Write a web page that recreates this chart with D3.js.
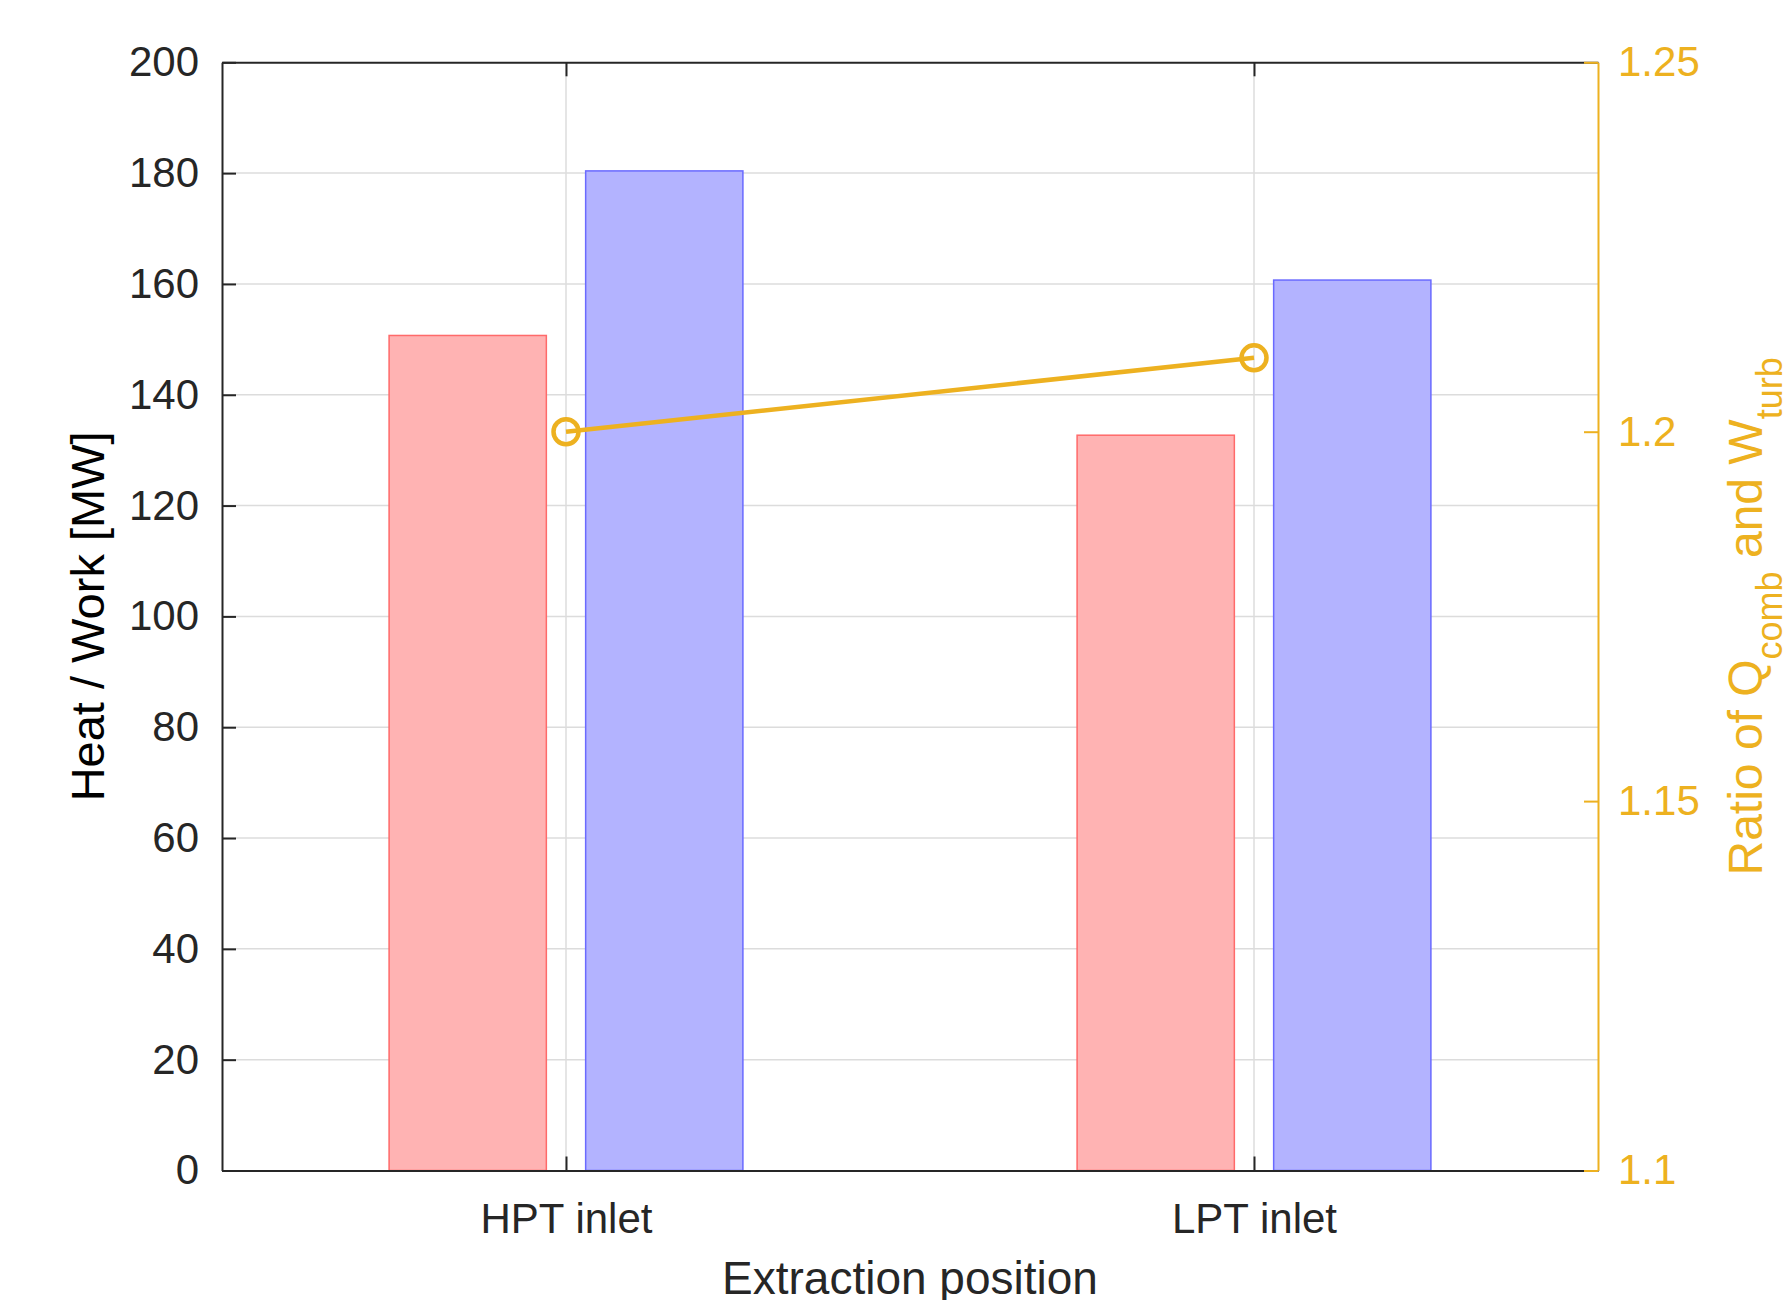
<!DOCTYPE html>
<html>
<head>
<meta charset="utf-8">
<script src="https://d3js.org/d3.v7.min.js"></script>
<style>
  body { margin: 0; background: #fff; }
  svg { display: block; font-family: "Liberation Sans", Arial, Helvetica, sans-serif; }
</style>
</head>
<body>
<div id="chart"></div>
<script>
// values
var categories = ["HPT inlet", "LPT inlet"];
var turbineWork = [150.7, 132.7];   // red bars
var combustionHeat = [180.4, 160.7]; // blue bars
var heatWorkRatio = [1.2, 1.21];     // orange line, right axis
var leftTicks = [0, 20, 40, 60, 80, 100, 120, 140, 160, 180, 200];
var rightTicks = [1.1, 1.15, 1.2, 1.25];

var W = 1790, H = 1300;
var plot = {left: 222, right: 1598, top: 62.3, bottom: 1170.5};
var ink = "#262626", orange = "#EDB120";

var svg = d3.select("#chart").append("svg")
    .attr("width", W).attr("height", H);

// scales (matlab-like: categories at 1..n, xlim [0.5, n+0.5])
var x = d3.scaleLinear().domain([0.5, categories.length + 0.5]).range([plot.left, plot.right]);
var y = d3.scaleLinear().domain([0, 200]).range([plot.bottom, plot.top]);
var y2 = d3.scaleLinear().domain([1.1, 1.25]).range([plot.bottom, plot.top]);

// grid behind everything
var grid = svg.append("g").attr("class", "grid")
    .attr("stroke", "#dcdcdc").attr("stroke-width", 1.5);
grid.selectAll(".gy").data(leftTicks.slice(1, -1)).enter().append("line")
    .attr("x1", plot.left).attr("x2", plot.right)
    .attr("y1", function(d) { return y(d); }).attr("y2", function(d) { return y(d); });
grid.selectAll(".gx").data(categories).enter().append("line")
    .attr("x1", function(d, i) { return x(i + 1); }).attr("x2", function(d, i) { return x(i + 1); })
    .attr("y1", plot.top).attr("y2", plot.bottom);

// grouped bars: 2 series, group width 0.5714
var barW = 0.8 * 0.5714 / 2, off = 0.5714 / 4;
var series = [
  {values: turbineWork, dx: -off, fill: "#ffb3b3", stroke: "#ff6a6a"},
  {values: combustionHeat, dx: off, fill: "#b3b3ff", stroke: "#6a6aff"}
];
var bars = svg.append("g").attr("class", "bars");
series.forEach(function(s) {
  bars.selectAll(null).data(s.values).enter().append("rect")
      .attr("x", function(d, i) { return x(i + 1 + s.dx - barW / 2); })
      .attr("width", x(barW) - x(0))
      .attr("y", function(d) { return y(d); })
      .attr("height", function(d) { return y(0) - y(d); })
      .attr("fill", s.fill)
      .attr("stroke", s.stroke)
      .attr("stroke-width", 1.5);
});

// ratio line on right axis
var line = d3.line()
    .x(function(d, i) { return x(i + 1); })
    .y(function(d) { return y2(d); });
svg.append("path").datum(heatWorkRatio)
    .attr("d", line)
    .attr("fill", "none")
    .attr("stroke", orange)
    .attr("stroke-width", 4.5);
svg.selectAll(".marker").data(heatWorkRatio).enter().append("circle")
    .attr("cx", function(d, i) { return x(i + 1); })
    .attr("cy", function(d) { return y2(d); })
    .attr("r", 12.5)
    .attr("fill", "none")
    .attr("stroke", orange)
    .attr("stroke-width", 4.5);

// axes, ticks pointing inward
var tickLen = 14;
var yAxis = d3.axisLeft(y).tickValues(leftTicks).tickFormat(d3.format("d"))
    .tickSizeInner(-tickLen).tickSizeOuter(0).tickPadding(23);
var y2Axis = d3.axisRight(y2).tickValues(rightTicks).tickFormat(function(d) { return String(+d.toFixed(2)); })
    .tickSizeInner(-tickLen).tickSizeOuter(0).tickPadding(20);
var xAxis = d3.axisBottom(x).tickValues(categories.map(function(d, i) { return i + 1; }))
    .tickFormat(function(d) { return categories[d - 1]; })
    .tickSizeInner(-tickLen).tickSizeOuter(0).tickPadding(33);
var xTop = d3.axisTop(x).tickValues(categories.map(function(d, i) { return i + 1; }))
    .tickFormat("").tickSizeInner(-tickLen).tickSizeOuter(0);

function styleAxis(g, color, size) {
  g.attr("font-family", null).attr("font-size", size);
  g.select(".domain").attr("stroke", color).attr("stroke-width", 2);
  g.selectAll(".tick line").attr("stroke", color).attr("stroke-width", 2);
  g.selectAll(".tick text").attr("fill", color);
}

svg.append("g").attr("transform", "translate(0," + plot.top + ")")
    .call(xTop).call(styleAxis, ink, 42);
svg.append("g").attr("transform", "translate(0," + plot.bottom + ")")
    .call(xAxis).call(styleAxis, ink, 42);
svg.append("g").attr("transform", "translate(" + plot.left + ",0)")
    .call(yAxis).call(styleAxis, ink, 42);
svg.append("g").attr("transform", "translate(" + plot.right + ",0)")
    .call(y2Axis).call(styleAxis, orange, 42);

// axis labels
svg.append("text")
    .attr("x", (plot.left + plot.right) / 2).attr("y", 1294)
    .attr("text-anchor", "middle").attr("font-size", 46).attr("fill", ink)
    .text("Extraction position");
svg.append("text")
    .attr("transform", "translate(104," + (plot.top + plot.bottom) / 2 + ") rotate(-90)")
    .attr("text-anchor", "middle").attr("font-size", 47).attr("fill", "#000")
    .text("Heat / Work [MW]");
var rl = svg.append("text")
    .attr("transform", "translate(1762," + (plot.top + plot.bottom) / 2 + ") rotate(-90)")
    .attr("text-anchor", "middle").attr("font-size", 48).attr("fill", orange);
rl.append("tspan").text("Ratio of Q");
rl.append("tspan").attr("font-size", 36).attr("dy", 20).text("comb");
rl.append("tspan").attr("dy", -20).text(" and W");
rl.append("tspan").attr("font-size", 36).attr("dy", 20).text("turb");
</script>
</body>
</html>
